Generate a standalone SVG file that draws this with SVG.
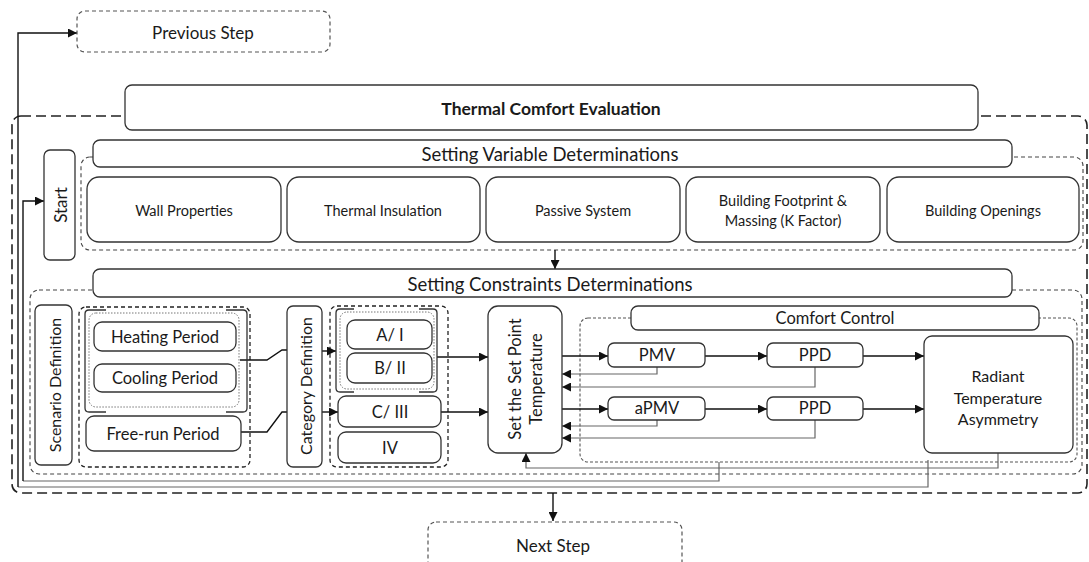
<svg xmlns="http://www.w3.org/2000/svg" width="1089" height="562" viewBox="0 0 1089 562">
<style>
text{font-family:Lato,"Open Sans","Liberation Sans",sans-serif;fill:#1a1a1a;text-anchor:middle;dominant-baseline:central}
.box{fill:#fff;stroke:#333;stroke-width:1.3}
.hdr{fill:#fff;stroke:#333;stroke-width:1.3}
.outer{fill:none;stroke:#222;stroke-width:1.6;stroke-dasharray:10 5}
.dash{fill:none;stroke:#444;stroke-width:1.1;stroke-dasharray:4 3}
.dash2{fill:none;stroke:#222;stroke-width:1.3;stroke-dasharray:4 3}
.dot{fill:none;stroke:#555;stroke-width:1.1;stroke-dasharray:3 2}
.dotted{fill:none;stroke:#777;stroke-width:1;stroke-dasharray:1.5 1.5}
.step{fill:#fff;stroke:#555;stroke-width:1.2;stroke-dasharray:4 3}
.br{fill:none;stroke:#333;stroke-width:1.3}
.c{fill:none;stroke:#111;stroke-width:1.4}
.fb{fill:none;stroke:#666;stroke-width:1.2}
.ar{marker-end:url(#ah)}
</style>
<defs>
<marker id="ah" viewBox="0 0 10 10" refX="10" refY="5" markerWidth="9" markerHeight="9" markerUnits="userSpaceOnUse" orient="auto">
<path d="M0,0 L10,5 L0,10 z" fill="#111"/>
</marker>
</defs>

<g id="containers">
<rect class="outer" x="12" y="116" width="1075" height="377" rx="9"/>
<rect class="dash" x="81" y="157" width="1002" height="93" rx="9"/>
<rect class="dash" x="30" y="290" width="1052" height="184" rx="9"/>
<rect class="dash2" x="79" y="307" width="171" height="160" rx="7"/>
<rect class="dash2" x="330" y="306" width="118" height="161" rx="7"/>
<rect class="dot" x="580" y="318" width="497" height="144" rx="8"/>
</g>

<g id="connectors">
<path class="c ar" d="M555,250 V269"/>
<path class="c" d="M240,360 H267 L282,350 H287"/>
<path class="c" d="M241,432 H267 L282,412 H287"/>
<path class="c ar" d="M322,351 H336"/>
<path class="c ar" d="M322,412 H338"/>
<path class="c ar" d="M437,357 H488"/>
<path class="c ar" d="M441,412 H488"/>
<path class="c ar" d="M562,356 H608"/>
<path class="c ar" d="M705,356 H767"/>
<path class="c ar" d="M863,356 H924"/>
<path class="c ar" d="M562,409 H608"/>
<path class="c ar" d="M705,409 H767"/>
<path class="c ar" d="M863,409 H924"/>
<path class="fb ar" d="M657,367 V374 H562"/>
<path class="fb ar" d="M815,367 V387 H562"/>
<path class="fb ar" d="M657,420 V426 H562"/>
<path class="fb ar" d="M815,420 V438 H562"/>
<path class="fb ar" d="M998,453 V468 H526 V453"/>
<path class="fb" d="M719,462 V481 H23"/>
<path class="c ar" d="M23,481 V201 H44"/>
<path class="fb" d="M928,460 V487 H18"/>
<path class="c ar" d="M18,487 V33 H77"/>
<path class="c ar" d="M553,493 V521"/>
</g>

<g id="previous-step"><rect class="step" x="77" y="11" width="253" height="41" rx="8"/><text x="203" y="32" font-size="17">Previous Step</text></g>
<g id="next-step"><rect class="step" x="428" y="522" width="254" height="50" rx="8"/><text x="553" y="545" font-size="17">Next Step</text></g>

<g id="thermal-comfort-evaluation"><rect class="hdr" x="125" y="85" width="853" height="45" rx="7"/><text x="551" y="108" font-size="17.5" font-weight="bold">Thermal Comfort Evaluation</text></g>

<g id="start"><rect class="box" x="44" y="150" width="31" height="110" rx="6"/><text transform="translate(60,205) rotate(-90)" font-size="17">Start</text></g>

<g id="setting-variable"><rect class="hdr" x="93" y="140" width="919" height="27" rx="7"/><text x="550" y="154" font-size="18.5">Setting Variable Determinations</text></g>
<g id="wall-properties"><rect class="box" x="87" y="177" width="194" height="65" rx="12"/><text x="184" y="210" font-size="14.5">Wall Properties</text></g>
<g id="thermal-insulation"><rect class="box" x="287" y="177" width="193" height="65" rx="12"/><text x="383" y="210" font-size="14.5">Thermal Insulation</text></g>
<g id="passive-system"><rect class="box" x="486" y="177" width="194" height="65" rx="12"/><text x="583" y="210" font-size="14.5">Passive System</text></g>
<g id="building-footprint"><rect class="box" x="686" y="177" width="194" height="65" rx="12"/><text x="783" y="200" font-size="14.5">Building Footprint &amp;</text><text x="783" y="220" font-size="14.5">Massing (K Factor)</text></g>
<g id="building-openings"><rect class="box" x="887" y="177" width="192" height="65" rx="12"/><text x="983" y="210" font-size="14.5">Building Openings</text></g>

<g id="setting-constraints"><rect class="hdr" x="93" y="269" width="919" height="28" rx="7"/><text x="550" y="284" font-size="18.5">Setting Constraints Determinations</text></g>

<g id="scenario-definition"><rect class="box" x="35" y="305" width="37" height="160" rx="6"/><text transform="translate(54,385) rotate(-90)" font-size="16">Scenario Definition</text></g>

<g id="heat-cool-group">
<rect class="dotted" x="89" y="313" width="150" height="94" rx="7"/>
<path class="br" d="M106,310 H89 Q85,310 85,314 V408 Q85,412 89,412 H106"/>
<path class="br" d="M226,310 H243 Q247,310 247,314 V408 Q247,412 243,412 H226"/>
</g>
<g id="heating-period"><rect class="box" x="94" y="322" width="142" height="29" rx="8"/><text x="165" y="337" font-size="16.5">Heating Period</text></g>
<g id="cooling-period"><rect class="box" x="94" y="364" width="142" height="28" rx="8"/><text x="165" y="378" font-size="16.5">Cooling Period</text></g>
<g id="free-run-period"><rect class="box" x="86" y="416" width="155" height="35" rx="8"/><text x="163" y="434" font-size="16.5">Free-run Period</text></g>

<g id="category-definition"><rect class="box" x="287" y="306" width="35" height="161" rx="6"/><text transform="translate(305,386) rotate(-90)" font-size="16">Category Definition</text></g>

<g id="ab-group">
<rect class="dotted" x="340" y="312" width="94" height="77" rx="7"/>
<path class="br" d="M354,309 H340 Q336,309 336,313 V388 Q336,392 340,392 H354"/>
<path class="br" d="M419,309 H433 Q437,309 437,313 V388 Q437,392 433,392 H419"/>
</g>
<g id="cat-a"><rect class="box" x="347" y="320" width="85" height="29" rx="8"/><text x="390" y="335" font-size="16.5">A/ I</text></g>
<g id="cat-b"><rect class="box" x="347" y="353" width="85" height="30" rx="8"/><text x="390" y="368" font-size="16.5">B/ II</text></g>
<g id="cat-c"><rect class="box" x="338" y="396" width="103" height="31" rx="8"/><text x="390" y="412" font-size="16.5">C/ III</text></g>
<g id="cat-d"><rect class="box" x="338" y="432" width="103" height="31" rx="8"/><text x="390" y="448" font-size="16.5">IV</text></g>

<g id="set-point"><rect class="box" x="488" y="306" width="74" height="147" rx="10"/><text transform="translate(515,379) rotate(-90)" font-size="16.5">Set the Set Point</text><text transform="translate(536,379) rotate(-90)" font-size="16.5">Temperature</text></g>

<g id="comfort-control"><rect class="hdr" x="631" y="306" width="408" height="24" rx="7"/><text x="835" y="318" font-size="16.5">Comfort Control</text></g>
<g id="pmv"><rect class="box" x="608" y="343" width="97" height="24" rx="6"/><text x="657" y="355" font-size="16.5">PMV</text></g>
<g id="ppd1"><rect class="box" x="767" y="343" width="96" height="24" rx="6"/><text x="815" y="355" font-size="16.5">PPD</text></g>
<g id="apmv"><rect class="box" x="608" y="397" width="97" height="23" rx="6"/><text x="657" y="408" font-size="16.5">aPMV</text></g>
<g id="ppd2"><rect class="box" x="767" y="397" width="96" height="23" rx="6"/><text x="815" y="408" font-size="16.5">PPD</text></g>
<g id="radiant"><rect class="box" x="924" y="336" width="149" height="117" rx="8"/><text x="998" y="375" font-size="16">Radiant</text><text x="998" y="397" font-size="16">Temperature</text><text x="998" y="418" font-size="16">Asymmetry</text></g>
</svg>
